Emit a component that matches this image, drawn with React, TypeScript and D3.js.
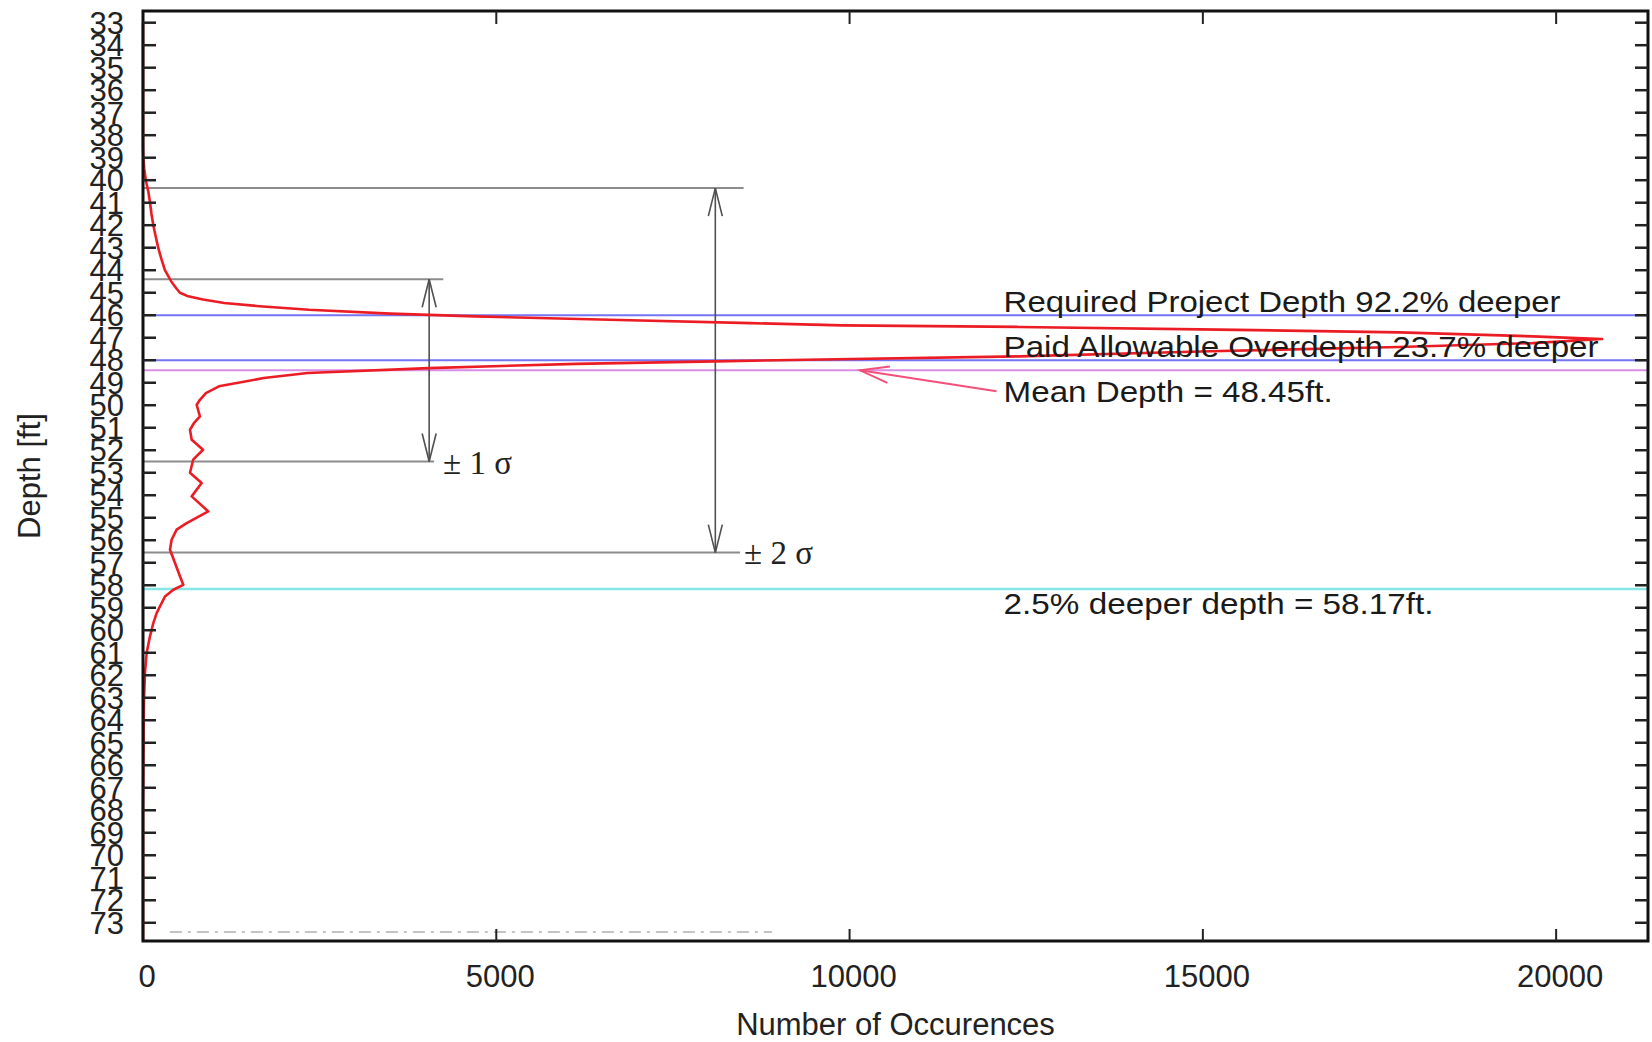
import React from "react";
import * as d3 from "d3";

// ---------- data ----------
const depthTicks = d3.range(33, 74); // 33..73 ft
const countTicks = [0, 5000, 10000, 15000, 20000];

// histogram of depths: [depth ft, number of occurrences]
const histDepth = [
  33, 34, 35, 36, 37, 38, 38.5, 39, 39.5, 40, 40.5, 41, 41.5, 42, 42.5, 43, 43.5, 44, 44.5, 44.8,
  45, 45.16, 45.3, 45.46, 45.6, 45.76, 45.93, 46.05, 46.2, 46.35, 46.45, 46.52, 46.64, 46.76, 46.94,
  47.06, 47.24, 47.41, 47.6, 47.83, 47.97, 48.05, 48.16, 48.35, 48.57, 48.79, 49.16, 49.46, 49.76,
  49.98, 50.5, 50.8, 51.09, 51.53, 51.98, 52.42, 53.0, 53.46, 54.05, 54.72, 55.24, 55.53, 55.98,
  56.42, 57.01, 57.6, 57.98, 58.2, 58.5, 58.94, 59.24, 59.68, 60.27, 61.0, 61.9, 63, 64, 65, 66, 67,
  68, 69, 70, 71, 72, 73, 73.8,
];
const histCount = [
  0, 0, 0, 0, 0, 0, 0, 5, 18, 40, 75, 100, 120, 146, 180, 215, 260, 310, 400, 470,
  523, 640, 850, 1150, 1650, 2350, 3500, 4700, 6600, 8600, 9900, 12400, 15230, 17780, 19670,
  20650, 19670, 17780, 15100, 12400, 9600, 8100, 6130, 4045, 2330, 1710, 1075, 890, 806,
  760, 806, 720, 665, 689, 850, 710, 665, 830, 689, 924, 618, 476, 405,
  382, 453, 523, 570, 429, 311, 240, 193, 146, 99, 52, 28, 15, 10, 8, 5, 3,
  0, 0, 0, 0, 0, 0, 0,
];

const meanDepth = 48.45;
const sigma = 4.05;
const requiredDepth = 46;
const paidDepth = 48;
const deeperDepth = 58.17;

const refLabels = [
  "Required Project Depth 92.2% deeper",
  "Paid Allowable Overdepth 23.7% deeper",
  "Mean Depth = 48.45ft.",
  "2.5% deeper depth = 58.17ft.",
];
const sigmaLabels = ["\u00B1 1 \u03C3", "\u00B1 2 \u03C3"];
// gray bracket line extents (count) and arrow positions (count)
const sigmaLineEnds = [4250, 4120, 8500, 8450];
const sigmaArrowX = [4050, 8100];

const xTitle = "Number of Occurences";
const yTitle = "Depth [ft]";

// ---------- layout ----------
const W = 1652;
const H = 1042;
const L = 143, R = 1648, T = 11, B = 941;
const SANS = "'Liberation Sans', Arial, Helvetica, sans-serif";
const SERIF = "'Liberation Serif', 'Times New Roman', serif";

const x = d3.scaleLinear().domain([0, 21300]).range([L, R]);
const y = d3.scaleLinear().domain([32.48, 73.81]).range([T, B]);

function vArrowHead(px: number, py: number, dir: number) {
  // dir: -1 pointing up, +1 pointing down
  const len = 28, hw = 7;
  return `M${px - hw},${py - dir * len}L${px},${py}L${px + hw},${py - dir * len}`;
}

export default function App() {
  const pts: [number, number][] = histDepth.map((d, i) => [histCount[i], d]);
  const line = d3
    .line<[number, number]>()
    .x((d) => x(d[0]))
    .y((d) => y(d[1]));

  const s1a = meanDepth - sigma, s1b = meanDepth + sigma;
  const s2a = meanDepth - 2 * sigma, s2b = meanDepth + 2 * sigma;

  // mean arrow
  const tipX = x(10150), tipY = y(meanDepth);
  const tailX = x(12080), tailY = y(meanDepth) + 21;
  const ang = Math.atan2(tailY - tipY, tailX - tipX);
  const aLen = 30, aSpread = 0.28;
  const b1 = [tipX + aLen * Math.cos(ang - aSpread), tipY + aLen * Math.sin(ang - aSpread)];
  const b2 = [tipX + aLen * Math.cos(ang + aSpread), tipY + aLen * Math.sin(ang + aSpread)];

  const labelX = x(12180);

  return (
    <svg width={W} height={H} style={{ display: "block", position: "absolute", left: 0, top: 0, background: "#fff" }}>
      <rect x={0} y={0} width={W} height={H} fill="#fff" />

      {/* reference lines */}
      <line x1={L} x2={R} y1={y(requiredDepth)} y2={y(requiredDepth)} stroke="#7474f4" strokeWidth={2} />
      <line x1={L} x2={R} y1={y(paidDepth)} y2={y(paidDepth)} stroke="#7474f4" strokeWidth={2} />
      <line x1={L} x2={R} y1={y(meanDepth)} y2={y(meanDepth)} stroke="#d98ee6" strokeWidth={2} />
      <line x1={L} x2={R} y1={y(deeperDepth)} y2={y(deeperDepth)} stroke="#86e6e6" strokeWidth={2.5} />

      {/* sigma bracket lines */}
      {[s1a, s1b, s2a, s2b].map((d, i) => (
        <line key={i} x1={L} x2={x(sigmaLineEnds[i])} y1={y(d)} y2={y(d)} stroke="#8c8c8c" strokeWidth={2} />
      ))}

      {/* sigma arrows */}
      {[
        [sigmaArrowX[0], s1a, s1b],
        [sigmaArrowX[1], s2a, s2b],
      ].map(([cx, a, b], i) => (
        <g key={i} stroke="#505050" strokeWidth={1.6} fill="none">
          <line x1={x(cx)} x2={x(cx)} y1={y(a)} y2={y(b)} />
          <path d={vArrowHead(x(cx), y(a), -1)} />
          <path d={vArrowHead(x(cx), y(b), 1)} />
        </g>
      ))}
      <text x={x(sigmaLineEnds[1]) + 9} y={y(s1b) + 13} fontFamily={SERIF} fontSize={33} fill="#222">
        {sigmaLabels[0]}
      </text>
      <text x={x(sigmaLineEnds[3]) + 4} y={y(s2b) + 11} fontFamily={SERIF} fontSize={33} fill="#222">
        {sigmaLabels[1]}
      </text>

      {/* faint remnant line near bottom */}
      <line x1={x(380)} x2={x(8900)} y1={B - 9} y2={B - 9} stroke="#c4c4c4" strokeWidth={2} strokeDasharray="12 6 3 6" />

      {/* distribution curve */}
      <path d={line(pts) || ""} fill="none" stroke="#ec1c24" strokeWidth={2.6} strokeLinejoin="round" />

      {/* mean arrow */}
      <g stroke="#f2507a" strokeWidth={2} fill="none">
        <line x1={tailX} y1={tailY} x2={tipX} y2={tipY} />
        <path d={`M${b1[0]},${b1[1]}L${tipX},${tipY}L${b2[0]},${b2[1]}`} />
      </g>

      {/* reference labels */}
      <g fontFamily={SANS} fontSize={30} fill="#1a1a1a">
        <text x={labelX} y={y(requiredDepth) - 3} textLength={557} lengthAdjust="spacingAndGlyphs">{refLabels[0]}</text>
        <text x={labelX} y={y(paidDepth) - 3} textLength={595} lengthAdjust="spacingAndGlyphs">{refLabels[1]}</text>
        <text x={labelX} y={y(meanDepth) + 32} textLength={329} lengthAdjust="spacingAndGlyphs">{refLabels[2]}</text>
        <text x={labelX} y={y(deeperDepth) + 25} textLength={430} lengthAdjust="spacingAndGlyphs">{refLabels[3]}</text>
      </g>

      {/* frame */}
      <rect x={L} y={T} width={R - L} height={B - T} fill="none" stroke="#111" strokeWidth={3} />

      {/* y ticks left & right */}
      {depthTicks.map((d) => (
        <g key={d}>
          <line x1={L} x2={L + 13} y1={y(d)} y2={y(d)} stroke="#222" strokeWidth={2.5} />
          <line x1={R - 13} x2={R} y1={y(d)} y2={y(d)} stroke="#222" strokeWidth={2.5} />
          <text x={124} y={y(d)} dy="0.36em" textAnchor="end" fontFamily={SANS} fontSize={31} fill="#222">
            {d}
          </text>
        </g>
      ))}

      {/* x ticks bottom & top */}
      {countTicks.map((c) => (
        <g key={c}>
          {c > 0 && <line x1={x(c)} x2={x(c)} y1={B} y2={B - 12} stroke="#222" strokeWidth={2} />}
          {c > 0 && <line x1={x(c)} x2={x(c)} y1={T} y2={T + 13} stroke="#222" strokeWidth={2} />}
          <text x={x(c) + 4} y={987} textAnchor="middle" fontFamily={SANS} fontSize={31} fill="#222">
            {c}
          </text>
        </g>
      ))}

      {/* axis titles */}
      <text x={(L + R) / 2} y={1035} textAnchor="middle" fontFamily={SANS} fontSize={31} fill="#222">
        {xTitle}
      </text>
      <text
        transform={`translate(40,${(T + B) / 2}) rotate(-90)`}
        textAnchor="middle"
        fontFamily={SANS}
        fontSize={31}
        fill="#222"
      >
        {yTitle}
      </text>
    </svg>
  );
}
